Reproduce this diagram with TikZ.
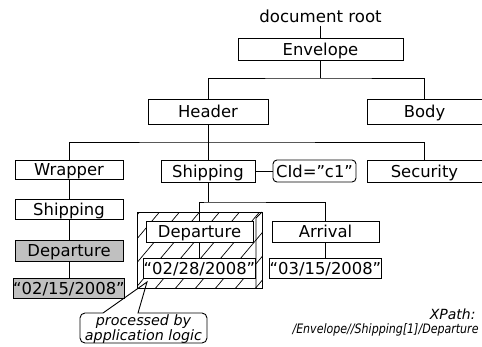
\documentclass[tikz,border=0pt]{standalone}
\usepackage{fontspec}
\setmainfont{DejaVu Sans}
\newfontfamily\narrowfont{DejaVu Sans}[FakeStretch=0.85]
\usetikzlibrary{positioning, calc}
\definecolor{selgray}{RGB}{192,192,192}

\tikzset{
  elem/.style={draw, fill=white, inner sep=0pt, text height=14pt, text depth=2pt,
    font=\fontsize{16.4}{19}\selectfont},
  selected/.style={elem, fill=selgray},
  attr/.style={elem, rounded corners=4pt},
  remark/.style={font=\itshape\fontsize{14}{16}\selectfont, inner sep=0pt, anchor=base east}
}

\begin{document}
\begin{tikzpicture}[x=1pt, y=-1pt, line width=0.9pt]
\useasboundingbox (0,0) rectangle (482,346);

% hatched box round the subtree handled by the application
\begin{scope}
  \clip (137,212) rectangle (262,288);
  \foreach \k in {0,...,11}
    \draw[line width=0.7pt] ({45.6+20*\k},300) -- ++(84,-100);
\end{scope}
\draw (137,212) rectangle (262,288);
\draw (262,212) -- (256,218) -- (256,288);

% tree
\node[font=\fontsize{16.6}{19}\selectfont, inner sep=3pt, anchor=base] (root) at (320.5,22) {document root};
\node[elem, minimum width=165pt, minimum height=22pt] (env) at (320.5,49) {Envelope};
\node[elem, minimum width=120pt, minimum height=25pt] (header) at (208,111.5) {Header};
\node[elem, minimum width=115pt, minimum height=25pt] (body) at (424.5,111.5) {Body};

\node[elem, minimum width=108pt, minimum height=19pt] (wrapper) at (69,169.5) {Wrapper};
\node[elem, minimum width=94pt, minimum height=22pt] (ship) at (208,171) {Shipping};
\node[attr, minimum width=83pt, minimum height=22pt] (cid) at (314.5,171) {CId="c1"};
\node[elem, minimum width=115pt, minimum height=22pt] (security) at (424.5,171) {Security};

\node[elem, minimum width=108pt, minimum height=20pt] (ship2) at (69,209) {Shipping};
\node[selected, minimum width=108pt, minimum height=21pt] (dep1) at (69,250.5) {Departure};
\node[selected, minimum width=108pt, minimum height=20pt] (date1) at (69,288) {“02/15/2008”};

\node[elem, minimum width=107pt, minimum height=21pt] (dep2) at (199.5,231.5) {Departure};
\node[elem, minimum width=107pt, minimum height=20pt] (date2) at (199.5,268) {“02/28/2008”};
\node[elem, minimum width=107pt, minimum height=21pt] (arr) at (325.5,231.5) {Arrival};
\node[elem, minimum width=107pt, minimum height=20pt] (date3) at (325.5,268) {“03/15/2008”};

\coordinate (hfork) at (320.5,78);
\coordinate (sfork) at (208,142);
\coordinate (dfork) at (208,202);

\draw (root) -- (env);
\draw (env) -- (hfork);
\draw (header.north) |- (hfork) -| (body.north);
\draw (header) -- (ship);
\draw (wrapper.north) |- (sfork) -| (security.north);
\draw (ship) -- (cid);
\draw (wrapper) -- (ship2) -- (dep1) -- (date1);
\draw (ship) -- (dfork);
\draw (dep2.north) |- (dfork) -| (arr.north);
\draw (dep2) -- (date2);
\draw (arr) -- (date3);

% callout
\node[font=\itshape\fontsize{14.3}{15.5}\selectfont, align=center, inner sep=0pt] (note)
  at (143.5,329) {processed by\\application logic};
\coordinate (tip) at (147,282);
\draw (tip) -- (138,313) [rounded corners=5pt] -- (207,313) -- (207,343) -- (80,343)
  -- (80,313) [sharp corners] -- (103,313) -- cycle;

\node[remark] (xlabel) at (476,319) {XPath:};
\node[remark, font=\narrowfont\itshape\fontsize{13}{15}\selectfont] (xpath) at (479,333)
  {/Envelope//Shipping[1]/Departure};
\end{tikzpicture}
\end{document}
